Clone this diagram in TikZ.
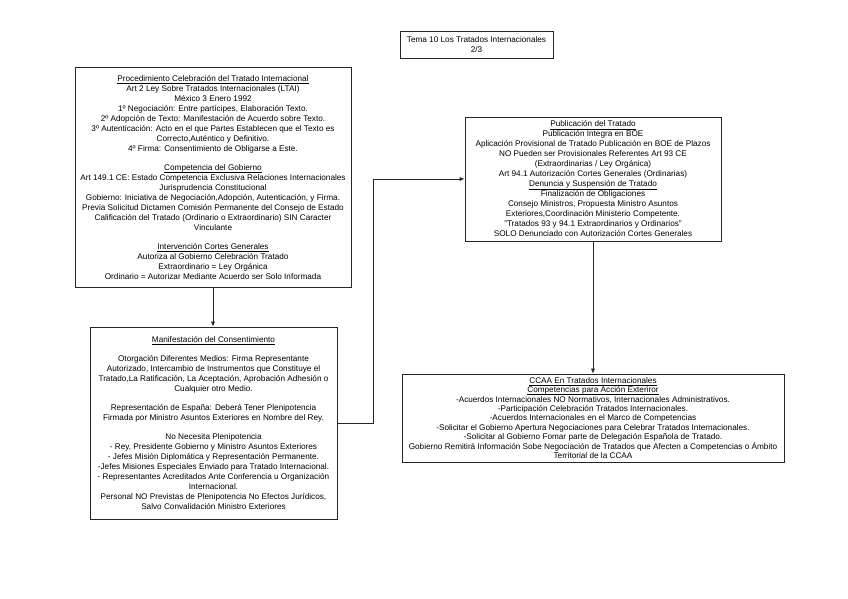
\documentclass[tikz,border=0pt]{standalone}
\usepackage{fontspec}
\setmainfont{Liberation Sans}
\usetikzlibrary{arrows.meta}
\newcommand\letracaja{\fontsize{8.2}{10}\selectfont}
\newcommand\letrabaja{\fontsize{8.2}{9.4}\selectfont}
\newcommand\subr[1]{\underline{\raisebox{0pt}[\height][0.5pt]{#1}}}
\tikzstyle{caja} = [draw=black!85, line width=0.7pt, align=center, font=\letracaja, inner sep=1pt]
\tikzstyle{flecha} = [-{Latex[length=5pt,width=4pt]}, line width=0.6pt, black!85]

\begin{document}
\begin{tikzpicture}[x=1pt,y=-1pt]
\useasboundingbox (0,0) rectangle (848,599);
\node[caja, minimum width=153, minimum height=27] (titulo) at (476.5,44.5) {Tema 10 Los Tratados Internacionales\\2/3};
\node[caja, minimum width=276, minimum height=220] (proc) at (213,177.5) {\subr{Procedimiento Celebración del Tratado Internacional}\\
Art 2 Ley Sobre Tratados Internacionales (LTAI)\\
México 3 Enero 1992\\
1º Negociación: Entre partícipes, Elaboración Texto.\\
2º Adopción de Texto: Manifestación de Acuerdo sobre Texto.\\
3º Autenticación: Acto en el que Partes Establecen que el Texto es\\
Correcto,Auténtico y Definitivo.\\
4º Firma: Consentimiento de Obligarse a Este.\\[9pt]
\subr{Competencia del Gobierno}\\
Art 149.1 CE: Estado Competencia Exclusiva Relaciones Internacionales\\
Jurisprudencia Constitucional\\
Gobierno: Iniciativa de Negociación,Adopción, Autenticación, y Firma.\\
Previa Solicitud Dictamen Comisión Permanente del Consejo de Estado\\
Calificación del Tratado (Ordinario o Extraordinario) SIN Caracter\\
Vinculante\\[9pt]
\subr{Intervención Cortes Generales}\\
Autoriza al Gobierno Celebración Tratado\\
Extraordinario = Ley Orgánica\\
Ordinario = Autorizar Mediante Acuerdo ser Solo Informada};
\node[caja, minimum width=247, minimum height=192] (manif) at (213.5,423) {\subr{Manifestación del Consentimiento}\\[9pt]
Otorgación Diferentes Medios: Firma Representante\\
Autorizado, Intercambio de Instrumentos que Constituye el\\
Tratado,La Ratificación, La Aceptación, Aprobación Adhesión o\\
Cualquier otro Medio.\\[9pt]
Representación de España: Deberá Tener Plenipotencia\\
Firmada por Ministro Asuntos Exteriores en Nombre del Rey.\\[9pt]
No Necesita Plenipotencia\\
- Rey, Presidente Gobierno y Ministro Asuntos Exteriores\\
- Jefes Misión Diplomática y Representación Permanente.\\
-Jefes Misiones Especiales Enviado para Tratado Internacional.\\
- Representantes Acreditados Ante Conferencia u Organización\\
Internacional.\\
Personal NO Previstas de Plenipotencia No Efectos Jurídicos,\\
Salvo Convalidación Ministro Exteriores};
\node[caja, minimum width=256, minimum height=124] (pub) at (593,179) {\subr{Publicación del Tratado}\\
Publicación Integra en BOE\\
Aplicación Provisional de Tratado Publicación en BOE de Plazos\\
NO Pueden ser Provisionales Referentes Art 93 CE\\
(Extraordinarias / Ley Orgánica)\\
Art 94.1 Autorización Cortes Generales (Ordinarias)\\
\subr{Denuncia y Suspensión de Tratado}\\
Finalización de Obligaciones\\
Consejo Ministros, Propuesta Ministro Asuntos\\
Exteriores,Coordinación Ministerio Competente.\\
"Tratados 93 y 94.1 Extraordinarios y Ordinarios"\\
SOLO Denunciado con Autorización Cortes Generales};
\node[caja, font=\letrabaja, minimum width=382, minimum height=88] (ccaa) at (593,418) {\subr{CCAA En Tratados Internacionales}\\
\subr{Competencias para Acción Exteriror}\\
-Acuerdos Internacionales NO Normativos, Internacionales Administrativos.\\
-Participación Celebración Tratados Internacionales.\\
-Acuerdos Internacionales en el Marco de Competencias\\
-Solicitar el Gobierno Apertura Negociaciones para Celebrar Tratados Internacionales.\\
-Solicitar al Gobierno Fomar parte de Delegación Española de Tratado.\\
Gobierno Remitirá Información Sobe Negociación de Tratados que Afecten a Competencias o Ámbito\\
Territorial de la CCAA};
\draw[flecha] (proc.south) -- (proc.south |- manif.north);
\draw[flecha] (manif.east) -- ++(36,0) |- (pub.west);
\draw[flecha] (pub.south) -- (pub.south |- ccaa.north);
\end{tikzpicture}
\end{document}
